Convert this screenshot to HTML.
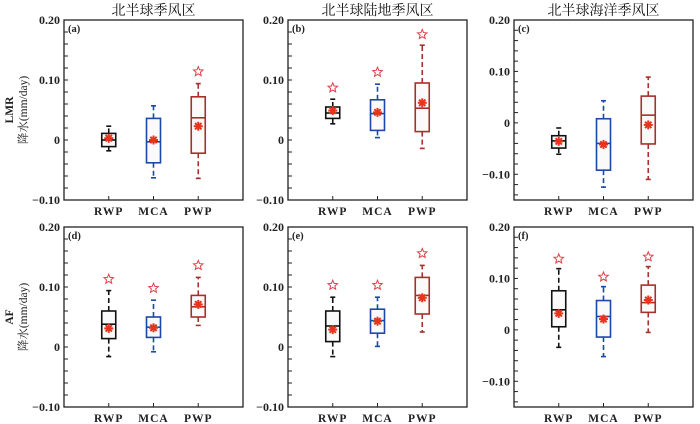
<!DOCTYPE html>
<html><head><meta charset="utf-8"><style>
html,body{margin:0;padding:0;background:#fff;}
svg{display:block;font-family:"Liberation Serif","Noto Serif CJK SC",serif;}
</style></head><body>
<svg id="chart" width="700" height="424" viewBox="0 0 700 424" xmlns="http://www.w3.org/2000/svg"></svg>
<script>
const categories = ["RWP","MCA","PWP"];
const panelLabels = ["(a)","(b)","(c)","(d)","(e)","(f)"];
const panelTitles = ["北半球季风区","北半球陆地季风区","北半球海洋季风区"];
const rowLabels = ["LMR","AF"];
const yTicksAB = [0.20,0.10,0,-0.10];
const yTickLabelsAB = ["0.20","0.10","0","\u22120.10"];
const yTicksC = [0.20,0.10,0,-0.10];
const yTickLabelsC = ["0.20","0.10","0","\u22120.10"];
const yTicksF = [0.20,0.10,0,-0.10];
const yTickLabelsF = ["0.20","0.10","0","\u22120.10"];
// each: [whiskerLow, q1, median, q3, whiskerHigh, mean, star(null=none)]
const dataA = [[-0.018,-0.011,0.0,0.011,0.023,0.003,null],[-0.063,-0.038,-0.003,0.036,0.057,0.0,null],[-0.064,-0.022,0.037,0.072,0.094,0.023,0.114]];
const dataB = [[0.027,0.036,0.045,0.055,0.068,0.049,0.087],[0.004,0.016,0.044,0.067,0.093,0.046,0.113],[-0.014,0.014,0.053,0.095,0.158,0.062,0.176]];
const dataC = [[-0.061,-0.049,-0.035,-0.025,-0.010,-0.036,null],[-0.125,-0.092,-0.040,0.008,0.043,-0.042,null],[-0.110,-0.041,0.015,0.052,0.089,-0.004,null]];
const dataD = [[-0.016,0.014,0.038,0.060,0.094,0.031,0.113],[-0.008,0.016,0.033,0.050,0.078,0.032,0.098],[0.036,0.050,0.067,0.086,0.116,0.071,0.136]];
const dataE = [[-0.016,0.009,0.035,0.060,0.083,0.029,0.103],[0.001,0.023,0.044,0.063,0.083,0.043,0.103],[0.025,0.055,0.086,0.116,0.136,0.082,0.156]];
const dataF = [[-0.034,0.006,0.039,0.076,0.119,0.032,0.138],[-0.052,-0.014,0.026,0.057,0.084,0.021,0.103],[-0.005,0.034,0.053,0.087,0.123,0.058,0.142]];

const colors = ["#111111","#1d47a8","#a8302c"];
const NS = "http://www.w3.org/2000/svg";
const svg = document.getElementById('chart');
function el(tag, attrs, parent){const e=document.createElementNS(NS,tag);for(const k in attrs)e.setAttribute(k,attrs[k]);(parent||svg).appendChild(e);return e;}

const panels = [
 {x:64,y:20,ymin:-0.10,ymax:0.20,data:dataA,ticks:yTicksAB,tl:yTickLabelsAB},
 {x:288,y:20,ymin:-0.10,ymax:0.20,data:dataB,ticks:yTicksAB,tl:yTickLabelsAB},
 {x:514,y:20,ymin:-0.15,ymax:0.20,data:dataC,ticks:yTicksC,tl:yTickLabelsC},
 {x:64,y:227,ymin:-0.10,ymax:0.20,data:dataD,ticks:yTicksAB,tl:yTickLabelsAB},
 {x:288,y:227,ymin:-0.10,ymax:0.20,data:dataE,ticks:yTicksAB,tl:yTickLabelsAB},
 {x:514,y:227,ymin:-0.15,ymax:0.20,data:dataF,ticks:yTicksF,tl:yTickLabelsF}
];
const W=179,H=180;

function starPath(cx,cy,r){let d="";for(let i=0;i<10;i++){const a=-Math.PI/2+i*Math.PI/5;const rr=i%2?r*0.45:r;d+=(i?"L":"M")+(cx+rr*Math.cos(a)).toFixed(2)+","+(cy+rr*Math.sin(a)).toFixed(2);}return d+"Z";}

panels.forEach((p,pi)=>{
  const g=el('g',{});
  
  
  const ys=v=>p.y+H-(v-p.ymin)/(p.ymax-p.ymin)*H;
  const xs=i=>p.x+(i+1)*W/4;
  const fr=el('rect',{x:p.x,y:p.y,width:W,height:H,fill:'none',stroke:'#222','stroke-width':1.3},g);
  
  
  for(let k=Math.ceil(p.ymin/0.02-1e-6);k*0.02<=p.ymax+1e-9;k++){
    const yy=ys(k*0.02);
    el('line',{x1:p.x,x2:p.x+4,y1:yy,y2:yy,stroke:'#222','stroke-width':1},g);
  }
  p.ticks.forEach((t,i)=>{
    const tx=el('text',{x:p.x-4,y:ys(t)+4,'text-anchor':'end','font-size':12,'font-weight':'bold',fill:'#222'},g);
    tx.textContent=p.tl[i];
    
    
  });
  if(pi<3){
    const tt=el('text',{x:p.x+W/2,y:15,'text-anchor':'middle','font-size':14,fill:'#111'},g);
    tt.textContent=panelTitles[pi];
    
    
  }
  const pl=el('text',{x:p.x+4,y:p.y+12,'font-size':10.5,'font-weight':'bold',fill:'#222'},g);
  pl.textContent=panelLabels[pi];
  
  
  categories.forEach((c,i)=>{
    const cx=xs(i);
    el('line',{x1:cx,x2:cx,y1:p.y+H,y2:p.y+H-4,stroke:'#222','stroke-width':1},g);
    const lx=el('text',{x:cx,y:p.y+H+15,'text-anchor':'middle','font-size':11.5,'font-weight':'bold','letter-spacing':'1',fill:'#222'},g);
    lx.textContent=c;
    
    
    const d=p.data[i], col=colors[i];
    const bg=el('g',{},g);
    
    
    el('line',{x1:cx,x2:cx,y1:ys(d[3]),y2:ys(d[4]),stroke:col,'stroke-width':1.6,'stroke-dasharray':'5,3'},bg);
    el('line',{x1:cx,x2:cx,y1:ys(d[1]),y2:ys(d[0]),stroke:col,'stroke-width':1.6,'stroke-dasharray':'5,3'},bg);
    el('line',{x1:cx-2.5,x2:cx+2.5,y1:ys(d[4]),y2:ys(d[4]),stroke:col,'stroke-width':1.6},bg);
    el('line',{x1:cx-2.5,x2:cx+2.5,y1:ys(d[0]),y2:ys(d[0]),stroke:col,'stroke-width':1.6},bg);
    el('rect',{x:cx-7,y:ys(d[3]),width:14,height:Math.max(1,ys(d[1])-ys(d[3])),fill:'#fafafa',stroke:col,'stroke-width':1.6},bg);
    el('line',{x1:cx-7,x2:cx+7,y1:ys(d[2]),y2:ys(d[2]),stroke:col,'stroke-width':1.6},bg);
    const my=ys(d[5]);
    for(let a=0;a<4;a++){const an=a*Math.PI/4;el('line',{x1:cx-4.5*Math.cos(an),x2:cx+4.5*Math.cos(an),y1:my-4.5*Math.sin(an),y2:my+4.5*Math.sin(an),stroke:'#e8341c','stroke-width':2},bg);}
    if(d[6]!==null){el('path',{d:starPath(cx,ys(d[6]),5),fill:'none',stroke:'#e0404a','stroke-width':1},bg);}
  });
});
rowLabels.forEach((r,i)=>{
  const cy=i?317:110;
  const t1=el('text',{transform:`translate(13,${cy}) rotate(-90)`,'text-anchor':'middle','font-size':11.5,'font-weight':'bold',fill:'#222'});
  t1.textContent=r;
  
  
  const t2=el('text',{transform:`translate(27,${cy}) rotate(-90)`,'text-anchor':'middle','font-size':11.5,fill:'#222'});
  t2.textContent='降水(mm/day)';
  
  
});
</script>
</body></html>
